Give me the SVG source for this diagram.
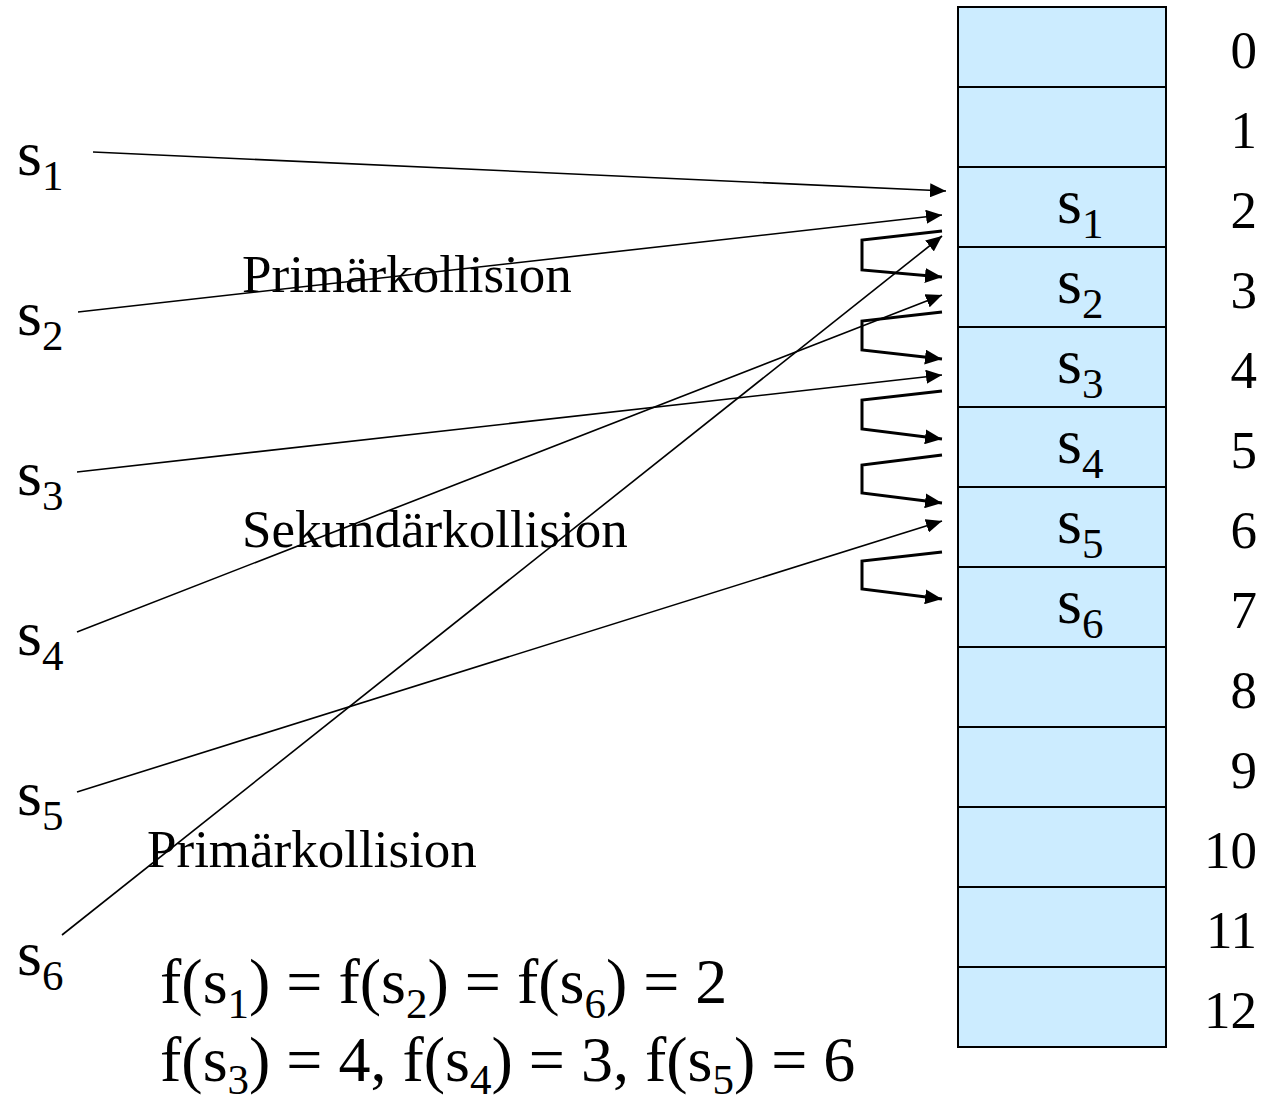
<svg xmlns="http://www.w3.org/2000/svg" width="1263" height="1101" viewBox="0 0 1263 1101">
<style>
text,tspan{font-family:"Liberation Serif","Times New Roman",serif;fill:#000}
.s{font-size:64px}
.sub{font-size:43px}
.idx{font-size:53px;text-anchor:end}
.lbl{font-size:53px}
.cell{fill:#CCECFF;stroke:#000;stroke-width:2}
.ln{fill:none;stroke:#000;stroke-width:1.6}
.br{fill:none;stroke:#000;stroke-width:3}
</style>
<defs>
<marker id="ah" markerUnits="userSpaceOnUse" markerWidth="16" markerHeight="14" refX="16" refY="7" orient="auto">
<path d="M0,0 L16,7 L0,14 z" fill="#000"/>
</marker>
<marker id="ahb" markerUnits="userSpaceOnUse" markerWidth="17" markerHeight="15" refX="17" refY="7.5" orient="auto">
<path d="M0,0 L17,7.5 L0,15 z" fill="#000"/>
</marker>
</defs>
<g id="table">
<rect class="cell" x="958" y="7" width="208" height="80"/>
<rect class="cell" x="958" y="87" width="208" height="80"/>
<rect class="cell" x="958" y="167" width="208" height="80"/>
<rect class="cell" x="958" y="247" width="208" height="80"/>
<rect class="cell" x="958" y="327" width="208" height="80"/>
<rect class="cell" x="958" y="407" width="208" height="80"/>
<rect class="cell" x="958" y="487" width="208" height="80"/>
<rect class="cell" x="958" y="567" width="208" height="80"/>
<rect class="cell" x="958" y="647" width="208" height="80"/>
<rect class="cell" x="958" y="727" width="208" height="80"/>
<rect class="cell" x="958" y="807" width="208" height="80"/>
<rect class="cell" x="958" y="887" width="208" height="80"/>
<rect class="cell" x="958" y="967" width="208" height="80"/>
</g>
<g id="table-entries">
<text class="s" x="1057" y="223">s<tspan class="sub" dy="15">1</tspan></text>
<text class="s" x="1057" y="303">s<tspan class="sub" dy="15">2</tspan></text>
<text class="s" x="1057" y="383">s<tspan class="sub" dy="15">3</tspan></text>
<text class="s" x="1057" y="463">s<tspan class="sub" dy="15">4</tspan></text>
<text class="s" x="1057" y="543">s<tspan class="sub" dy="15">5</tspan></text>
<text class="s" x="1057" y="623">s<tspan class="sub" dy="15">6</tspan></text>
</g>
<g id="indices">
<text class="idx" x="1257" y="68">0</text>
<text class="idx" x="1257" y="148">1</text>
<text class="idx" x="1257" y="228">2</text>
<text class="idx" x="1257" y="308">3</text>
<text class="idx" x="1257" y="388">4</text>
<text class="idx" x="1257" y="468">5</text>
<text class="idx" x="1257" y="548">6</text>
<text class="idx" x="1257" y="628">7</text>
<text class="idx" x="1257" y="708">8</text>
<text class="idx" x="1257" y="788">9</text>
<text class="idx" x="1257" y="868">10</text>
<text class="idx" x="1257" y="948">11</text>
<text class="idx" x="1257" y="1028">12</text>
</g>
<g id="key-s1"><text class="s" x="17" y="175">s<tspan class="sub" dy="15">1</tspan></text></g>
<g id="key-s2"><text class="s" x="17" y="335">s<tspan class="sub" dy="15">2</tspan></text></g>
<g id="key-s3"><text class="s" x="17" y="495">s<tspan class="sub" dy="15">3</tspan></text></g>
<g id="key-s4"><text class="s" x="17" y="655">s<tspan class="sub" dy="15">4</tspan></text></g>
<g id="key-s5"><text class="s" x="17" y="815">s<tspan class="sub" dy="15">5</tspan></text></g>
<g id="key-s6"><text class="s" x="17" y="975">s<tspan class="sub" dy="15">6</tspan></text></g>
<g id="labels">
<text class="lbl" x="242" y="292">Primärkollision</text>
<text class="lbl" x="242" y="547">Sekundärkollision</text>
<text class="lbl" x="147" y="867">Primärkollision</text>
</g>
<g id="formulas">
<text class="s" x="160" y="1003">f(s<tspan class="sub" dy="15">1</tspan><tspan dy="-15">) = f(s</tspan><tspan class="sub" dy="15">2</tspan><tspan dy="-15">) = f(s</tspan><tspan class="sub" dy="15">6</tspan><tspan dy="-15">) = 2</tspan></text>
<text class="s" x="160" y="1081">f(s<tspan class="sub" dy="13">3</tspan><tspan dy="-13">) = 4, f(s</tspan><tspan class="sub" dy="13">4</tspan><tspan dy="-13">) = 3, f(s</tspan><tspan class="sub" dy="13">5</tspan><tspan dy="-13">) = 6</tspan></text>
</g>
<g id="connectors">
<line class="ln" x1="93" y1="152" x2="946" y2="191" marker-end="url(#ah)"/>
<line class="ln" x1="78" y1="312" x2="942" y2="215" marker-end="url(#ah)"/>
<line class="ln" x1="77" y1="472" x2="942" y2="375" marker-end="url(#ah)"/>
<line class="ln" x1="77" y1="632" x2="942" y2="295" marker-end="url(#ah)"/>
<line class="ln" x1="77" y1="792" x2="942" y2="521" marker-end="url(#ah)"/>
<line class="ln" x1="62" y1="935" x2="942" y2="236" marker-end="url(#ah)"/>
<polyline class="br" points="942,231 862,240 862,270 942,277" marker-end="url(#ahb)"/>
<polyline class="br" points="942,312 862,321 862,350 942,359" marker-end="url(#ahb)"/>
<polyline class="br" points="942,391 862,400 862,429 942,439" marker-end="url(#ahb)"/>
<polyline class="br" points="942,455 862,465 862,493 942,503" marker-end="url(#ahb)"/>
<polyline class="br" points="942,552 862,561 862,589 942,599" marker-end="url(#ahb)"/>
</g>
</svg>
